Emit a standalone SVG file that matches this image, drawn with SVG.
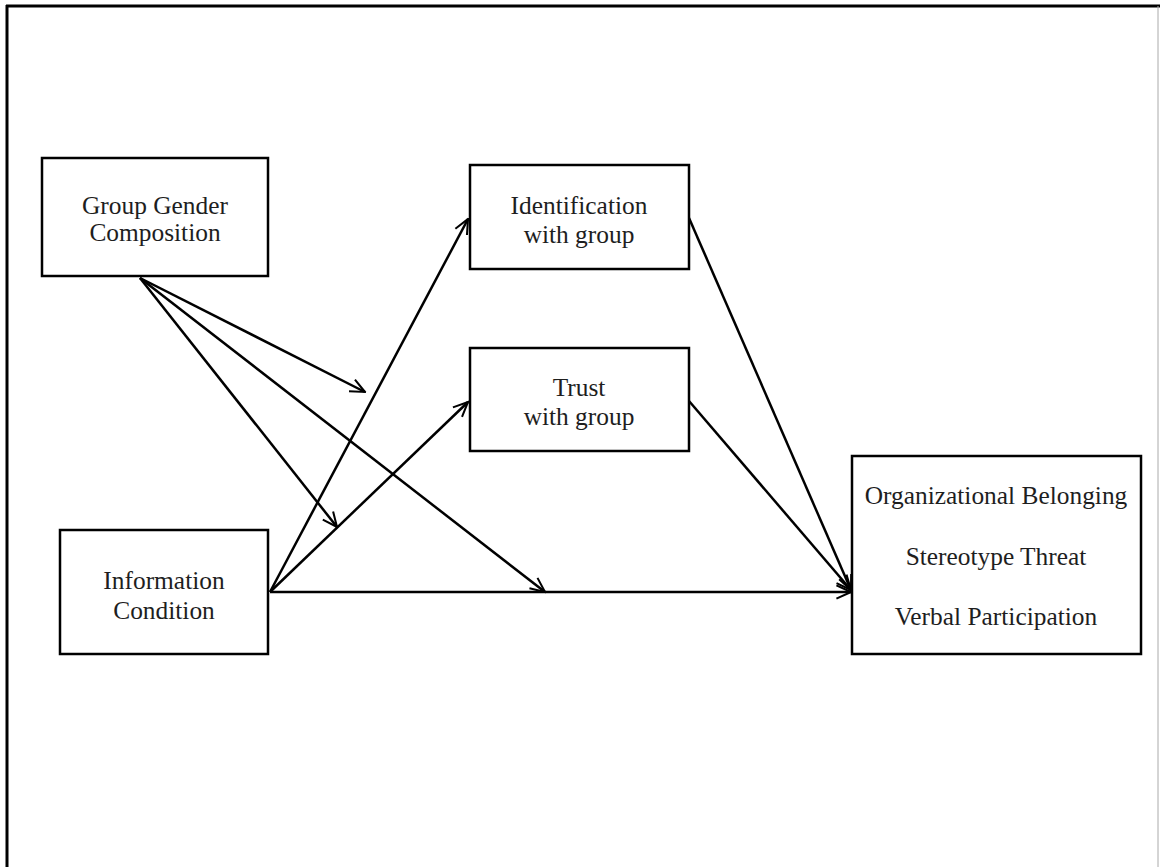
<svg xmlns="http://www.w3.org/2000/svg" width="1160" height="867" viewBox="0 0 1160 867">
<defs>
<style>
.box{fill:#fff;stroke:#000;stroke-width:2.5}
.t{font-family:"Liberation Serif","Times New Roman",serif;font-size:25.4px;fill:#1e1e1e;text-anchor:middle}
.c{stroke:#000;stroke-width:2.5;fill:none;marker-end:url(#ah)}
</style>
<marker id="ah" viewBox="0 0 12 12" refX="11" refY="6" markerWidth="7" markerHeight="7" markerUnits="strokeWidth" orient="auto">
<path d="M1,1.5 L11,6 L1,10.5" fill="none" stroke="#000" stroke-width="1.4"/>
</marker>
</defs>
<rect width="1160" height="867" fill="#fff"/>
<g id="frame">
<line x1="6" y1="6" x2="1160" y2="6" stroke="#000" stroke-width="3"/>
<line x1="7" y1="5" x2="7" y2="867" stroke="#000" stroke-width="3"/>
<line x1="1158" y1="6" x2="1158" y2="867" stroke="#aaa" stroke-width="1"/>
</g>
<g id="connectors">
<line class="c" x1="140" y1="278" x2="365" y2="392"/>
<line class="c" x1="140" y1="278" x2="337" y2="527"/>
<line class="c" x1="140" y1="278" x2="545" y2="592"/>
<line class="c" x1="270" y1="592" x2="468" y2="219"/>
<line class="c" x1="270" y1="592" x2="468" y2="402"/>
<line class="c" x1="270" y1="592" x2="851" y2="592"/>
<line class="c" x1="689" y1="218" x2="851" y2="590"/>
<line class="c" x1="689" y1="401" x2="851" y2="590"/>
</g>
<g id="group-gender">
<rect class="box" x="42" y="158" width="226" height="118"/>
<text class="t" x="155" y="214">Group Gender</text>
<text class="t" x="155" y="241">Composition</text>
</g>
<g id="identification">
<rect class="box" x="470" y="165" width="219" height="104"/>
<text class="t" x="579" y="214">Identification</text>
<text class="t" x="579" y="243">with group</text>
</g>
<g id="trust">
<rect class="box" x="470" y="348" width="219" height="103"/>
<text class="t" x="579" y="396">Trust</text>
<text class="t" x="579" y="425">with group</text>
</g>
<g id="information">
<rect class="box" x="60" y="530" width="208" height="124"/>
<text class="t" x="164" y="589">Information</text>
<text class="t" x="164" y="619">Condition</text>
</g>
<g id="outcomes">
<rect class="box" x="852" y="456" width="289" height="198"/>
<text class="t" x="996" y="504">Organizational Belonging</text>
<text class="t" x="996" y="565">Stereotype Threat</text>
<text class="t" x="996" y="625">Verbal Participation</text>
</g>
</svg>
